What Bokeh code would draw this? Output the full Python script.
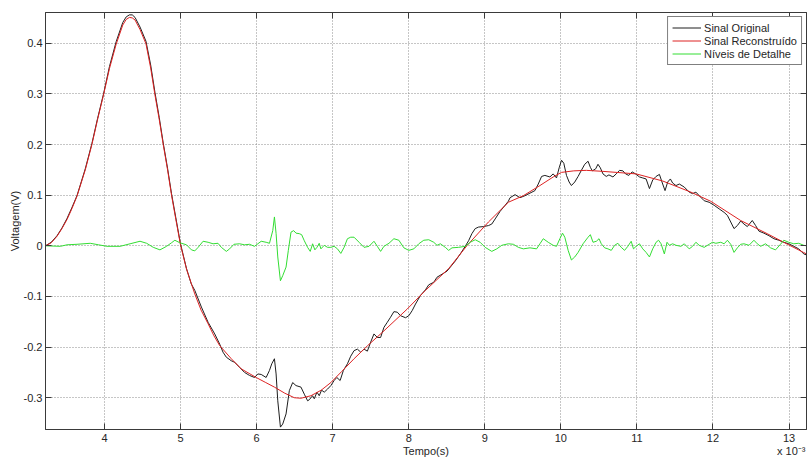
from bokeh.plotting import figure
from bokeh.models import FixedTicker, LinearAxis, Range1d, Legend, LegendItem
from bokeh.embed import file_html
from bokeh.resources import INLINE

# Time axis values are in units of 1e-3 s
orig_t = [3.224, 3.300, 3.376, 3.440, 3.507, 3.570, 3.638, 3.747, 3.834, 3.908,
          3.987, 4.065, 4.153, 4.240, 4.285, 4.327, 4.365, 4.401, 4.467, 4.545,
          4.607, 4.663, 4.720, 4.772, 4.829, 4.881, 4.938, 4.999, 5.078, 5.140,
          5.187, 5.274, 5.362, 5.449, 5.514, 5.558, 5.602, 5.667, 5.711, 5.776,
          5.841, 5.907, 5.972, 6.016, 6.060, 6.125, 6.169, 6.199, 6.234, 6.256,
          6.278, 6.313, 6.343, 6.387, 6.430, 6.474, 6.518, 6.583, 6.627, 6.670,
          6.692, 6.736, 6.758, 6.793, 6.823, 6.854, 6.889, 6.932, 6.976, 7.019,
          7.054, 7.098, 7.141, 7.194, 7.237,
          7.281, 7.325, 7.369, 7.412, 7.456, 7.500, 7.543, 7.587, 7.630, 7.674,
          7.718, 7.761, 7.805, 7.849, 7.892, 7.958, 8.001, 8.045, 8.089, 8.154,
          8.219, 8.263, 8.329, 8.372, 8.438, 8.503, 8.547, 8.612, 8.678, 8.743,
          8.787, 8.830, 8.874, 8.918, 8.983, 9.049, 9.092, 9.136, 9.201, 9.267,
          9.310,
          9.332, 9.398, 9.463, 9.529, 9.594, 9.659, 9.703, 9.747, 9.790, 9.856,
          9.899, 9.943, 9.978, 10.009, 10.039, 10.074, 10.109, 10.139, 10.183,
          10.227, 10.270, 10.314, 10.358, 10.388, 10.414, 10.458, 10.488, 10.519,
          10.554, 10.597, 10.632, 10.685, 10.728, 10.772, 10.816, 10.851, 10.894,
          10.938, 10.981, 11.034, 11.077, 11.121, 11.165, 11.208, 11.252, 11.296,
          11.339, 11.370, 11.405, 11.440, 11.470, 11.514, 11.558, 11.623, 11.688,
          11.732, 11.776, 11.819, 11.885, 11.950, 12.016, 12.081, 12.147, 12.190,
          12.234, 12.277, 12.321, 12.365, 12.408, 12.452, 12.517, 12.561, 12.605,
          12.670, 12.736, 12.801, 12.866, 12.932, 12.997, 13.063, 13.128, 13.194,
          13.230]
orig_v = [0.000, 0.007, 0.020, 0.035, 0.054, 0.075, 0.099, 0.152, 0.202, 0.251,
          0.300, 0.354, 0.403, 0.441, 0.452, 0.456, 0.456, 0.451, 0.432, 0.404,
          0.357, 0.303, 0.253, 0.203, 0.153, 0.103, 0.055, 0.004, -0.045, -0.075,
          -0.088, -0.121, -0.151, -0.174, -0.194, -0.210, -0.220, -0.227, -0.230, -0.240,
          -0.250, -0.256, -0.260, -0.253, -0.254, -0.260, -0.246, -0.233, -0.223, -0.253,
          -0.306, -0.358, -0.352, -0.332, -0.286, -0.270, -0.276, -0.279, -0.293, -0.306,
          -0.304, -0.296, -0.302, -0.289, -0.296, -0.285, -0.289, -0.283, -0.276, -0.266,
          -0.260, -0.266, -0.246, -0.233, -0.218,
          -0.207, -0.204, -0.210, -0.204, -0.208, -0.190, -0.174, -0.181, -0.181, -0.161,
          -0.151, -0.141, -0.130, -0.131, -0.138, -0.142, -0.138, -0.128, -0.115, -0.098,
          -0.087, -0.077, -0.072, -0.062, -0.056, -0.050, -0.042, -0.030, -0.016, -0.001,
          0.010, 0.024, 0.034, 0.037, 0.038, 0.040, 0.043, 0.053, 0.068, 0.080,
          0.088,
          0.095, 0.101, 0.095, 0.099, 0.104, 0.109, 0.122, 0.137, 0.139, 0.136,
          0.142, 0.134, 0.154, 0.169, 0.163, 0.139, 0.126, 0.119, 0.126,
          0.137, 0.149, 0.161, 0.167, 0.155, 0.148, 0.152, 0.161, 0.154,
          0.142, 0.137, 0.140, 0.136, 0.142, 0.149, 0.148, 0.142, 0.139,
          0.146, 0.142, 0.136, 0.134, 0.132, 0.113, 0.130, 0.137, 0.141,
          0.122, 0.109, 0.126, 0.132, 0.124, 0.119, 0.122, 0.116, 0.106,
          0.103, 0.106, 0.099, 0.089, 0.086, 0.080, 0.073, 0.066, 0.060,
          0.047, 0.034, 0.040, 0.049, 0.043, 0.038, 0.050, 0.040, 0.029,
          0.025, 0.020, 0.014, 0.011, 0.007, 0.004, -0.001, -0.006, -0.016,
          -0.018]

rec_t = [3.224, 3.300, 3.376, 3.440, 3.507, 3.570, 3.638, 3.747, 3.834, 3.908,
         3.987, 4.065, 4.153, 4.240, 4.285, 4.327, 4.365, 4.401, 4.467, 4.545,
         4.607, 4.663, 4.720, 4.772, 4.829, 4.881, 4.938, 4.999, 5.078, 5.187,
         5.270, 5.362, 5.440, 5.514, 5.667, 5.798, 5.994, 6.120, 6.234, 6.370,
         6.496, 6.583, 6.714, 6.850, 6.976, 7.120, 7.281, 7.460, 7.652, 7.979,
         8.220, 8.525, 8.764, 9.048, 9.310, 9.507, 9.725, 9.900, 10.008, 10.170,
         10.335, 10.554, 10.990, 11.339, 11.710, 11.970, 12.364, 12.713, 12.930,
         13.190, 13.230]
rec_v = [0.000, 0.006, 0.019, 0.034, 0.052, 0.073, 0.098, 0.150, 0.200, 0.249,
         0.298, 0.350, 0.398, 0.436, 0.447, 0.451, 0.450, 0.446, 0.427, 0.399,
         0.351, 0.298, 0.249, 0.200, 0.150, 0.100, 0.052, 0.002, -0.046, -0.095,
         -0.127, -0.154, -0.178, -0.197, -0.223, -0.243, -0.260, -0.270, -0.279, -0.291,
         -0.300, -0.301, -0.296, -0.285, -0.270, -0.248, -0.223, -0.197, -0.171, -0.125,
         -0.088, -0.045, 0.000, 0.047, 0.086, 0.099, 0.119, 0.136, 0.145, 0.148,
         0.149, 0.147, 0.142, 0.128, 0.106, 0.088, 0.050, 0.024, 0.007,
         -0.013, -0.016]

det_t = [3.224, 3.420, 3.507, 3.638, 3.812, 3.922, 4.031, 4.205, 4.336, 4.467,
         4.554, 4.641, 4.729, 4.816, 4.881, 4.925, 4.990, 5.078, 5.143, 5.187,
         5.231, 5.296, 5.362, 5.427, 5.492, 5.536, 5.602, 5.645, 5.702, 5.776,
         5.841, 5.907, 5.972, 6.016, 6.060, 6.125, 6.169, 6.212, 6.234, 6.256,
         6.278, 6.313, 6.343, 6.387, 6.417, 6.452, 6.487, 6.518, 6.561, 6.592,
         6.627, 6.670, 6.705, 6.736, 6.766, 6.793, 6.823, 6.845, 6.889, 6.932,
         6.976, 7.019, 7.063, 7.107, 7.150, 7.194, 7.237,
         7.281, 7.347, 7.412, 7.478, 7.543, 7.587, 7.630, 7.674, 7.740, 7.805,
         7.870, 7.936, 8.001, 8.067, 8.132, 8.198, 8.263, 8.329, 8.372, 8.416,
         8.481, 8.525, 8.569, 8.656, 8.743, 8.809, 8.874, 8.939, 9.005, 9.092,
         9.158, 9.223, 9.310,
         9.376, 9.441, 9.507, 9.594, 9.681, 9.725, 9.769, 9.834, 9.899, 9.943,
         9.987, 10.022, 10.052, 10.096, 10.139, 10.183, 10.227, 10.292, 10.358,
         10.388, 10.423, 10.467, 10.502, 10.532, 10.576, 10.619, 10.663, 10.707,
         10.750, 10.794, 10.838, 10.881, 10.925, 10.955, 10.990, 11.034, 11.077,
         11.121, 11.165, 11.208, 11.252, 11.285,
         11.318, 11.361, 11.396, 11.427, 11.470, 11.514, 11.579, 11.623, 11.688,
         11.732, 11.776, 11.819, 11.885, 11.950, 11.994, 12.038, 12.103, 12.147,
         12.190, 12.234, 12.277, 12.321, 12.365, 12.408, 12.474, 12.539, 12.583,
         12.627, 12.692, 12.757, 12.823, 12.888, 12.932, 12.997, 13.063, 13.128,
         13.194, 13.230]
det_v = [0.000, -0.001, 0.002, 0.003, 0.005, 0.002, -0.001, -0.001, 0.004, 0.009,
         0.005, -0.003, -0.008, -0.001, 0.006, 0.011, 0.006, 0.002, -0.008, -0.010,
         -0.003, 0.009, 0.007, 0.004, 0.005, -0.003, -0.011, -0.006, 0.003, 0.004,
         0.002, 0.003, -0.001, 0.004, 0.009, 0.007, 0.005, 0.030, 0.057, 0.024,
         -0.022, -0.069, -0.059, -0.042, -0.009, 0.027, 0.030, 0.025, 0.024, 0.022,
         0.010, -0.003, -0.011, 0.004, -0.008, -0.003, 0.005, -0.006, 0.001, -0.003,
         -0.003, -0.001, -0.006, -0.015, -0.003, 0.014, 0.017,
         0.017, 0.007, -0.003, -0.001, 0.009, -0.001, -0.011, -0.001, 0.005, 0.014,
         0.011, -0.004, -0.009, -0.006, 0.004, 0.011, 0.012, 0.007, 0.001, 0.004,
         -0.003, -0.009, -0.004, -0.003, -0.001, 0.007, 0.012, 0.007, -0.003, -0.011,
         -0.006, 0.001, 0.004,
         0.003, -0.003, -0.006, -0.004, -0.006, 0.004, 0.014, 0.007, 0.001, -0.001,
         0.014, 0.025, 0.017, -0.009, -0.028, -0.022, -0.013, 0.004, 0.017,
         0.022, 0.007, 0.009, 0.014, 0.004, -0.004, -0.006, -0.009, 0.001,
         0.005, -0.003, -0.009, -0.001, 0.009, -0.006, -0.001, 0.004, -0.006,
         -0.013, -0.022, -0.006, 0.007, 0.011,
         0.004, -0.016, 0.007, 0.001, 0.004, 0.001, -0.001, 0.004, -0.006,
         -0.001, 0.007, 0.001, -0.003, 0.003, 0.007, 0.005, 0.007, 0.004,
         0.011, 0.003, -0.013, -0.004, 0.003, 0.004, 0.001, 0.011, 0.004,
         -0.001, 0.004, -0.004, -0.008, 0.003, 0.011, 0.007, 0.004, 0.005,
         0.001, 0.000]

x_ticks = [4, 5, 6, 7, 8, 9, 10, 11, 12, 13]
x_tick_labels = ["4", "5", "6", "7", "8", "9", "10", "11", "12", "13"]
y_ticks = [-0.3, -0.2, -0.1, 0.0, 0.1, 0.2, 0.3, 0.4]
y_tick_labels = ["-0.3", "-0.2", "-0.1", "0", "0.1", "0.2", "0.3", "0.4"]

x_min, x_max = 3.224, 13.23
y_min, y_max = -0.3627, 0.4607

# caption row under the time ticks: axis title in the middle, scale factor at the right
caption_pos = [(x_min + x_max) / 2, 13.03]
caption_text = ["Tempo(s)", "x 10\u207b\u00b3"]

FONT = "Liberation Sans"
AXIS_COLOR = "#3a3a3a"
TEXT_COLOR = "#262626"

p = figure(width=808, height=459, output_backend="svg", toolbar_location=None,
           x_range=Range1d(x_min, x_max), y_range=Range1d(y_min, y_max),
           min_border_left=45, min_border_right=2, min_border_top=12,
           min_border_bottom=29, background_fill_color="white",
           border_fill_color="white")
p.outline_line_color = AXIS_COLOR

# bottom / left axes
p.xaxis.ticker = FixedTicker(ticks=x_ticks)
p.xaxis.major_label_overrides = dict(zip(x_ticks, x_tick_labels))
p.yaxis.ticker = FixedTicker(ticks=y_ticks)
p.yaxis.major_label_overrides = dict(zip(y_ticks, y_tick_labels))
p.yaxis.axis_label = "Voltagem(V)"
for ax in (p.xaxis[0], p.yaxis[0]):
    ax.major_tick_in = 6
    ax.major_tick_out = 0
    ax.minor_tick_line_color = None
    ax.axis_line_color = AXIS_COLOR
    ax.major_tick_line_color = AXIS_COLOR
    ax.major_label_text_font = FONT
    ax.major_label_text_font_size = "11px"
    ax.major_label_text_color = TEXT_COLOR
    ax.axis_label_text_font = FONT
    ax.axis_label_text_font_size = "11px"
    ax.axis_label_text_font_style = "normal"
    ax.axis_label_text_color = TEXT_COLOR
p.xaxis.major_label_standoff = 4
p.yaxis.major_label_standoff = 3
p.yaxis.axis_label_standoff = 0

caption_axis = LinearAxis(ticker=FixedTicker(ticks=caption_pos),
                          major_label_overrides=dict(zip(caption_pos, caption_text)),
                          axis_line_color=None, major_tick_line_color=None,
                          minor_tick_line_color=None, major_tick_in=0,
                          major_tick_out=0, major_label_standoff=0,
                          major_label_text_font=FONT,
                          major_label_text_font_size="11px",
                          major_label_text_color=TEXT_COLOR)
p.add_layout(caption_axis, "below")

# mirrored ticks on the top and right edges of the box
box_style = dict(major_tick_in=6, major_tick_out=0, minor_tick_line_color=None,
                 axis_line_color=AXIS_COLOR, major_tick_line_color=AXIS_COLOR,
                 major_label_text_font_size="1px", major_label_text_color=None,
                 major_label_standoff=0)
p.add_layout(LinearAxis(ticker=FixedTicker(ticks=x_ticks), **box_style), "above")
p.add_layout(LinearAxis(ticker=FixedTicker(ticks=y_ticks), **box_style), "right")

# dotted grid
p.xgrid.ticker = FixedTicker(ticks=x_ticks)
p.ygrid.ticker = FixedTicker(ticks=y_ticks)
for g in (p.xgrid[0], p.ygrid[0]):
    g.grid_line_color = "#8c8c8c"
    g.grid_line_dash = "1 2"
    g.grid_line_width = 1

# signals
r_orig = p.line(orig_t, orig_v, line_color="#1e1e1e", line_width=1)
r_rec = p.line(rec_t, rec_v, line_color="#dd2222", line_width=1)
r_det = p.line(det_t, det_v, line_color="#33dd33", line_width=1)

legend = Legend(items=[LegendItem(label="Sinal Original", renderers=[r_orig]),
                       LegendItem(label="Sinal Reconstruído", renderers=[r_rec]),
                       LegendItem(label="Níveis de Detalhe", renderers=[r_det])],
                location="top_right")
legend.border_line_color = "#000000"
legend.border_line_width = 1
legend.background_fill_color = "white"
legend.background_fill_alpha = 1
legend.label_text_font = FONT
legend.label_text_font_size = "11px"
legend.label_text_color = TEXT_COLOR
legend.glyph_width = 29
legend.glyph_height = 13
legend.label_height = 13
legend.label_standoff = 3
legend.spacing = 0
legend.padding = 4
legend.margin = 4
p.add_layout(legend)

open("out.html", "w").write(file_html(p, INLINE))
